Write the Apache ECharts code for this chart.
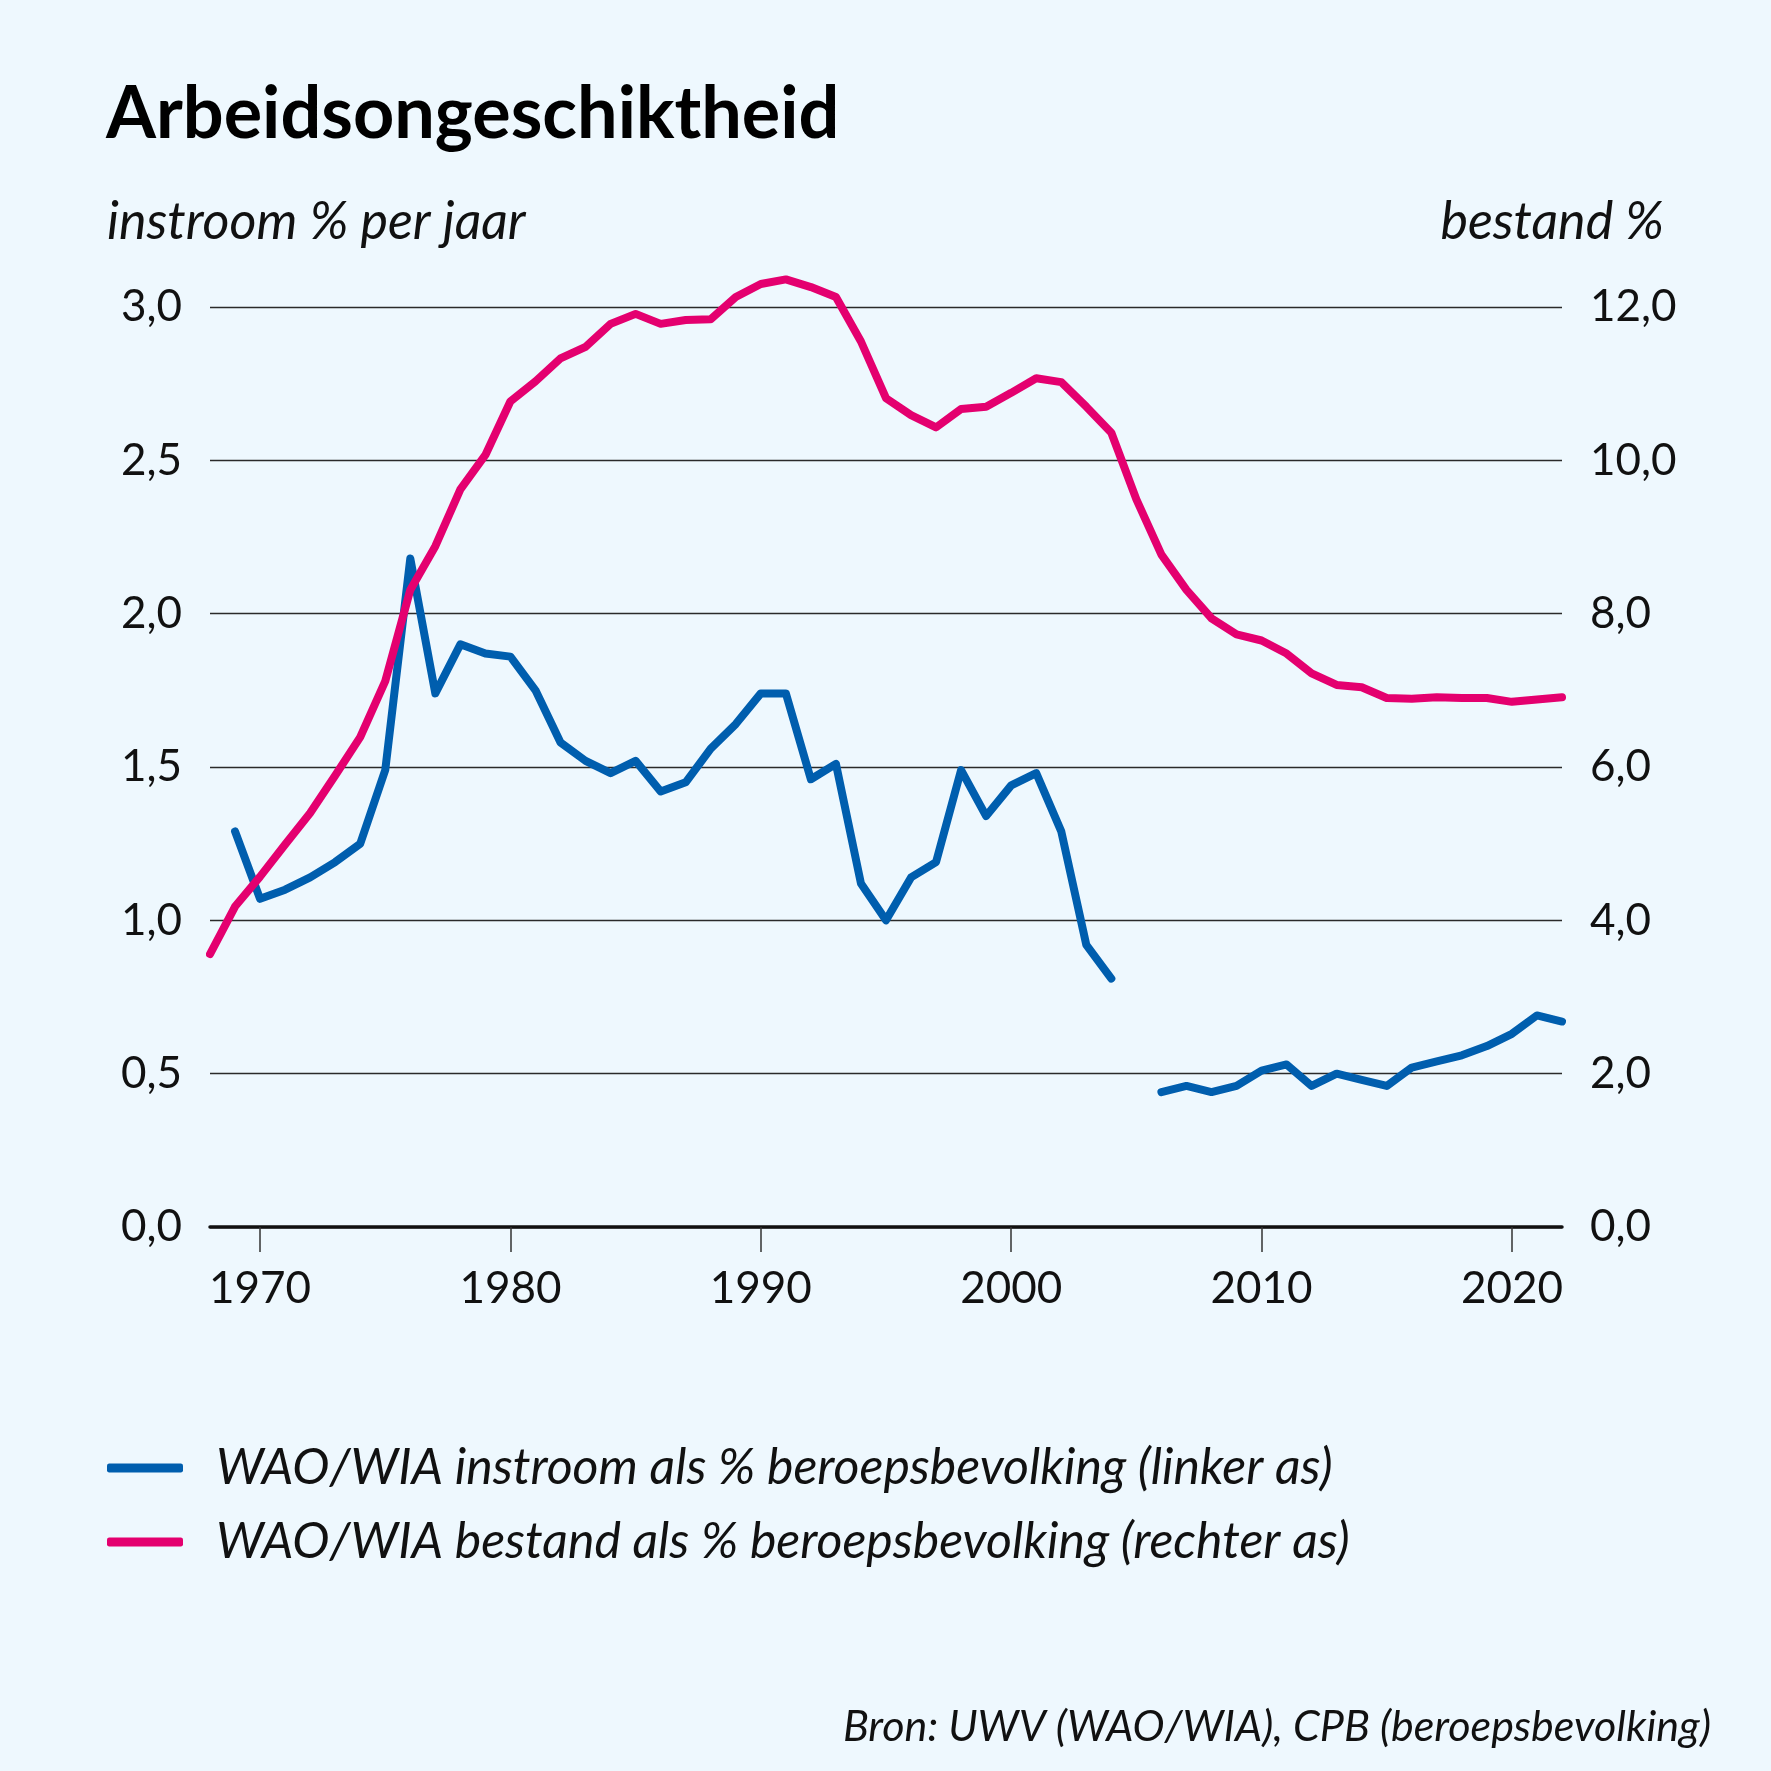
<!DOCTYPE html>
<html>
<head>
<meta charset="utf-8">
<script src="https://cdn.jsdelivr.net/npm/echarts@6/dist/echarts.min.js"></script>
<style>
  html, body { margin: 0; padding: 0; background: #eef8fe; }
  #chart { width: 1771px; height: 1771px; }
</style>
</head>
<body>
<div id="chart"></div>
<script>
// jaren op de x-as
const years = [];
for (let y = 1968; y <= 2022; y++) years.push(y);

// WAO/WIA instroom als % beroepsbevolking (linker as), null = geen waarde
const instroom = [
  null, 1.29, 1.07, 1.10, 1.14, 1.19, 1.25, 1.49, 2.18, 1.74,
  1.90, 1.87, 1.86, 1.75, 1.58, 1.52, 1.48, 1.52, 1.42, 1.45,
  1.56, 1.64, 1.74, 1.74, 1.46, 1.51, 1.12, 1.00, 1.14, 1.19,
  1.49, 1.34, 1.44, 1.48, 1.29, 0.92, 0.81, null, 0.44, 0.46,
  0.44, 0.46, 0.51, 0.53, 0.46, 0.50, 0.48, 0.46, 0.52, 0.54,
  0.56, 0.59, 0.63, 0.69, 0.67
];

// WAO/WIA bestand als % beroepsbevolking (rechter as)
const bestand = [
  3.56, 4.18, 4.57, 4.99, 5.40, 5.89, 6.39, 7.12, 8.31, 8.88,
  9.62, 10.07, 10.77, 11.03, 11.33, 11.48, 11.78, 11.91, 11.78, 11.83,
  11.84, 12.13, 12.30, 12.36, 12.26, 12.13, 11.55, 10.81, 10.59, 10.43,
  10.67, 10.70, 10.88, 11.07, 11.02, 10.70, 10.36, 9.49, 8.77, 8.31,
  7.94, 7.73, 7.65, 7.48, 7.22, 7.07, 7.04, 6.90, 6.89, 6.91,
  6.90, 6.90, 6.85, 6.88, 6.91
];

// labels op de x-as
const xTickYears = [1970, 1980, 1990, 2000, 2010, 2020];

const seriesNames = [
  'WAO/WIA instroom als % beroepsbevolking (linker as)',
  'WAO/WIA bestand als % beroepsbevolking (rechter as)'
];

const BLUE = '#005eae';
const PINK = '#e4006f';
const FONT = 'Lato';

function comma(v) {
  return v.toFixed(1).replace('.', ',');
}

const chart = echarts.init(document.getElementById('chart'), null, { renderer: 'canvas' });

const option = {
  backgroundColor: '#eef8fe',
  animation: false,
  textStyle: { fontFamily: FONT },
  grid: { left: 210, right: 209, top: 307, bottom: 544, containLabel: false },
  xAxis: {
    type: 'value',
    min: 1968,
    max: 2022,
    axisLine: { show: true, lineStyle: { color: '#111', width: 3.5 } },
    axisTick: {
      show: true,
      customValues: xTickYears,
      length: 25,
      lineStyle: { color: '#333', width: 1.5 }
    },
    axisLabel: {
      customValues: xTickYears,
      formatter: v => String(v),
      margin: 40,
      fontSize: 44,
      color: '#111',
      fontFamily: FONT
    },
    splitLine: { show: false }
  },
  yAxis: [
    {
      type: 'value',
      position: 'left',
      min: 0,
      max: 3,
      interval: 0.5,
      axisLine: { show: false },
      axisTick: { show: false },
      axisLabel: {
        formatter: v => comma(v),
        margin: 28,
        fontSize: 44,
        color: '#111',
        fontFamily: FONT,
        padding: [14, 0, 0, 0]
      },
      splitLine: { show: true, lineStyle: { color: '#2a2a2a', width: 1.3 } }
    },
    {
      type: 'value',
      position: 'right',
      min: 0,
      max: 12,
      interval: 2,
      axisLine: { show: false },
      axisTick: { show: false },
      axisLabel: {
        formatter: v => comma(v),
        margin: 28,
        fontSize: 44,
        color: '#111',
        fontFamily: FONT,
        padding: [14, 0, 0, 0]
      },
      splitLine: { show: false }
    }
  ],
  legend: {
    orient: 'vertical',
    left: 102,
    top: 1436,
    icon: 'roundRect',
    itemWidth: 76,
    itemHeight: 9,
    itemGap: 20,
    selectedMode: false,
    textStyle: {
      fontFamily: FONT,
      fontStyle: 'italic',
      fontSize: 50,
      lineHeight: 54,
      color: '#111',
      padding: [0, 0, 0, 28]
    },
    data: seriesNames
  },
  graphic: [
    {
      type: 'text',
      left: 106,
      top: 79,
      style: {
        text: 'Arbeidsongeschiktheid',
        fontFamily: FONT,
        fontWeight: 'bold',
        fontSize: 72,
        fill: '#000'
      }
    },
    {
      type: 'text',
      left: 107,
      top: 196,
      style: {
        text: 'instroom % per jaar',
        fontFamily: FONT,
        fontStyle: 'italic',
        fontSize: 52,
        fill: '#111'
      }
    },
    {
      type: 'text',
      right: 107,
      top: 196,
      style: {
        text: 'bestand %',
        fontFamily: FONT,
        fontStyle: 'italic',
        fontSize: 52,
        fill: '#111'
      }
    },
    {
      type: 'text',
      right: 60,
      top: 1706,
      style: {
        text: 'Bron: UWV (WAO/WIA), CPB (beroepsbevolking)',
        fontFamily: FONT,
        fontStyle: 'italic',
        fontSize: 43,
        fill: '#111'
      }
    }
  ],
  series: [
    {
      name: seriesNames[0],
      type: 'line',
      yAxisIndex: 0,
      color: BLUE,
      showSymbol: false,
      connectNulls: false,
      clip: false,
      lineStyle: { width: 8, color: BLUE, cap: 'round', join: 'round' },
      data: years.map((y, i) => [y, instroom[i]])
    },
    {
      name: seriesNames[1],
      type: 'line',
      yAxisIndex: 1,
      color: PINK,
      showSymbol: false,
      clip: false,
      lineStyle: { width: 8, color: PINK, cap: 'round', join: 'round' },
      data: years.map((y, i) => [y, bestand[i]])
    }
  ]
};

chart.setOption(option);
</script>
</body>
</html>
